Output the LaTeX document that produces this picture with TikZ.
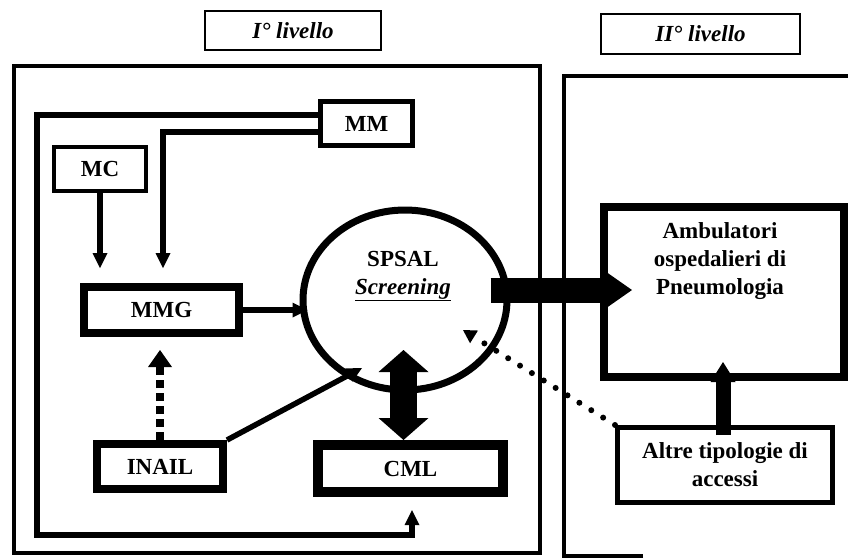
\documentclass[tikz,border=0pt]{standalone}
\usepackage{fontspec}
\setmainfont{Liberation Serif}
\usetikzlibrary{arrows.meta,shapes.geometric,calc}

\begin{document}
\begin{tikzpicture}[x=1pt,y=-1pt,
  txt/.style={font=\bfseries\fontsize{23}{28}\selectfont,align=center},
  box/.style={draw,rectangle,inner sep=0pt,txt},
  title/.style={box,line width=2pt,font=\bfseries\itshape\fontsize{23}{28}\selectfont},
  frame/.style={line width=3.5pt},
  conn/.style={line width=5.5pt,-{Triangle[width=15pt,length=15pt,line width=0pt]}},
  dashconn/.style={line width=8pt,dash pattern=on 8pt off 5pt,
    -{Triangle[width=24pt,length=17pt,line width=0pt]}},
  dotconn/.style={line width=6pt,dash pattern=on 0pt off 14pt,line cap=round,
    -{Triangle[width=15pt,length=13pt,line width=0pt]}},
  bigarrow/.style={line width=25pt,-{Triangle[width=42pt,length=30pt,line width=0pt]}},
  dblarrow/.style={line width=27pt,
    {Triangle[width=50pt,length=22pt,line width=0pt]}-{Triangle[width=50pt,length=22pt,line width=0pt]}},
  midarrow/.style={line width=15pt,-{Triangle[width=25pt,length=20pt,line width=0pt]}},
]
\useasboundingbox (0,0) rectangle (848,558);

% level frames
\draw[frame] (14,66) rectangle (540,553);
\draw[frame] (643,556) -- (564,556) -- (564,76) -- (850,76);

% level titles
\node[title,minimum width=176pt,minimum height=39pt] (t1) at (293,30.5) {I° livello};
\node[title,minimum width=199pt,minimum height=40pt] (t2) at (700.5,34) {II° livello};

% first level actors
\node[box,line width=5pt,minimum width=92pt,minimum height=44pt] (mm) at (366.5,123.5) {MM};
\node[box,line width=4.5pt,minimum width=92pt,minimum height=44pt] (mc) at (100,169) {MC};
\node[box,line width=8pt,minimum width=155pt,minimum height=46pt] (mmg) at (161.5,310) {MMG};
\node[box,line width=8pt,minimum width=126pt,minimum height=45pt] (inail) at (160,466.5) {INAIL};
\node[box,line width=10pt,minimum width=185pt,minimum height=47pt] (cml) at (410.5,468.5) {CML};

% screening service
\node[draw,ellipse,line width=7pt,inner sep=0pt,minimum width=204pt,minimum height=180pt] (spsal) at (405,300) {};
\node[txt] (spsaltxt) at (403,276) {SPSAL\\\underline{\textit{Screening}}};

% second level
\node[box,line width=8pt,minimum width=240pt,minimum height=170pt] (amb) at (724,292) {};
\node[txt] (ambtxt) at (720,261) {Ambulatori\\ospedalieri di\\Pneumologia};
\node[box,line width=5pt,minimum width=215pt,minimum height=75pt] (altre) at (725,465) {Altre tipologie di\\accessi};

% connectors
\draw[conn,shorten >=13pt] ([yshift=8.5pt]mm.west) -- (37,115) -- (37,535) -| ([xshift=1.5pt]cml.south);
\draw[conn,shorten >=15pt] ([yshift=-8.5pt]mm.west) -| ([xshift=1.5pt]mmg.north);
\draw[conn,shorten >=15pt] (mc.south) -- (mc.south |- mmg.north);
\draw[conn,shorten >=-8pt] (mmg.east) -- (mmg.east -| spsal.west);
\coordinate (inailtip) at (362,368);
\draw[conn] (inail.north east) -- (inailtip);
\draw[dashconn,shorten >=13pt] (inail.north) -- (inail.north |- mmg.south);
\coordinate (dottip) at (463,330);
\draw[dotconn] (altre.north west) -- (dottip);

% thick flows
\draw[dblarrow] ([xshift=-7pt]cml.north) -- ([xshift=-7pt,yshift=90pt]cml.north);
\draw[bigarrow] ($(spsal.east|-amb.west)+(-20,-2)$) -- ($(amb.west)+(32,-2)$);
\draw[midarrow] ($(altre.north)+(-2,10)$) -- ($(amb.south)+(-1,-19)$);
\end{tikzpicture}
\end{document}
